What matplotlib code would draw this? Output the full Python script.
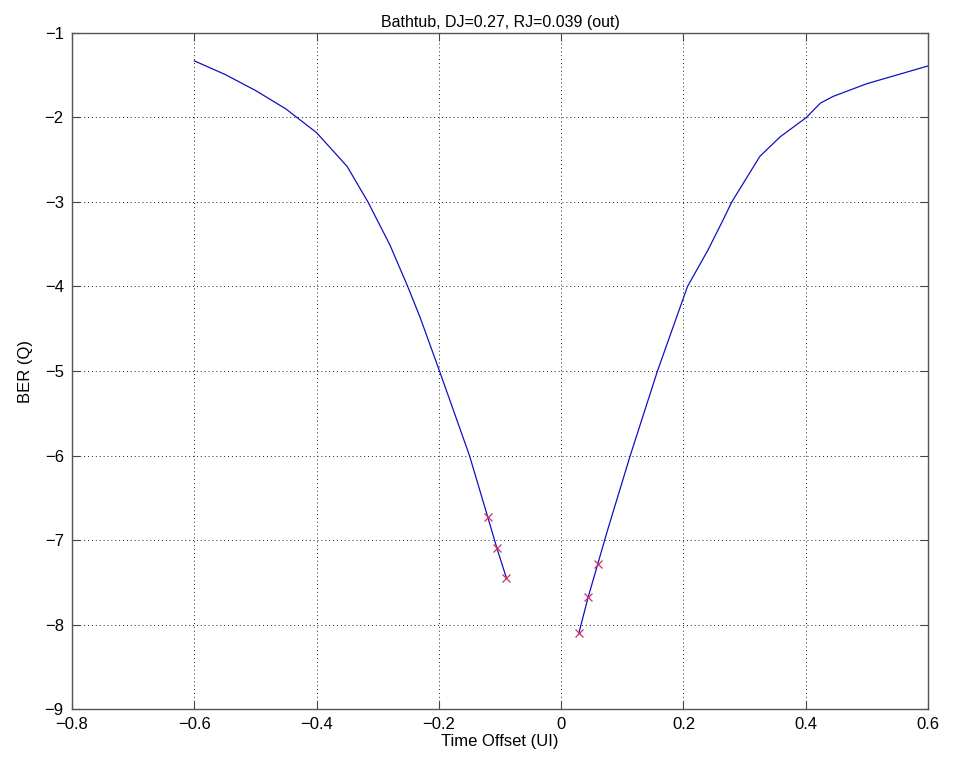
import matplotlib
matplotlib.use("Agg")
import matplotlib.pyplot as plt

# -- Data
left_x = [-0.60, -0.55, -0.50, -0.45, -0.40, -0.375, -0.35, -0.316,
          -0.28, -0.251, -0.231, -0.199, -0.150, -0.120, -0.105, -0.0895]
left_y = [-1.33, -1.49, -1.68, -1.90, -2.18, -2.38, -2.58, -3.00,
          -3.51, -4.00, -4.36, -5.00, -6.00, -6.73, -7.10, -7.45]

right_x = [0.029, 0.044, 0.060, 0.076, 0.113, 0.1575, 0.2066, 0.240,
           0.265, 0.279, 0.325, 0.358, 0.401, 0.424, 0.445, 0.50, 0.543, 0.60]
right_y = [-8.10, -7.68, -7.28, -6.88, -6.00, -5.00, -4.00, -3.57,
           -3.21, -3.00, -2.46, -2.23, -2.00, -1.83, -1.75, -1.60, -1.51, -1.39]

mark_x = [-0.120, -0.105, -0.0895, 0.029, 0.044, 0.060]
mark_y = [-6.73, -7.10, -7.45, -8.10, -7.68, -7.28]

TITLE = "Bathtub, DJ=0.27, RJ=0.039 (out)"

plt.rcParams["font.family"] = ["Liberation Sans", "DejaVu Sans"]

fig = plt.figure(figsize=(9.58, 7.58), dpi=100)
ax = fig.add_axes([0.0752, 0.0646, 0.8935, 0.8919])

ax.plot(left_x, left_y, color="#1010c0", linewidth=0.9)
ax.plot(right_x, right_y, color="#1010c0", linewidth=0.9)
ax.plot(mark_x, mark_y, linestyle="none", marker="x", color="#d0306a",
        markersize=6, markeredgewidth=0.9)

ax.set_xlim(-0.8, 0.6)
ax.set_ylim(-9, -1)
ax.set_xticks([-0.8, -0.6, -0.4, -0.2, 0, 0.2, 0.4, 0.6])
ax.set_xticklabels(["\u22120.8", "\u22120.6", "\u22120.4", "\u22120.2",
                    "0", "0.2", "0.4", "0.6"])
ax.set_yticks(range(-9, 0))

ax.grid(True, color="#222222", linestyle=(0, (1, 3)), linewidth=0.7)
ax.tick_params(direction="in", top=True, right=True, length=6,
               labelsize=12, color="#444444")
ax.tick_params(axis="x", pad=6)
ax.tick_params(axis="y", pad=6)
for s in ax.spines.values():
    s.set_color("#555555")
    s.set_linewidth(1.0)

ax.set_xlabel("Time Offset (UI)", fontsize=12, labelpad=1)
ax.set_ylabel("BER (Q)", fontsize=12, labelpad=8)
ax.set_title(TITLE, fontsize=11.5, pad=4)

fig.savefig("out.png", dpi=100)
